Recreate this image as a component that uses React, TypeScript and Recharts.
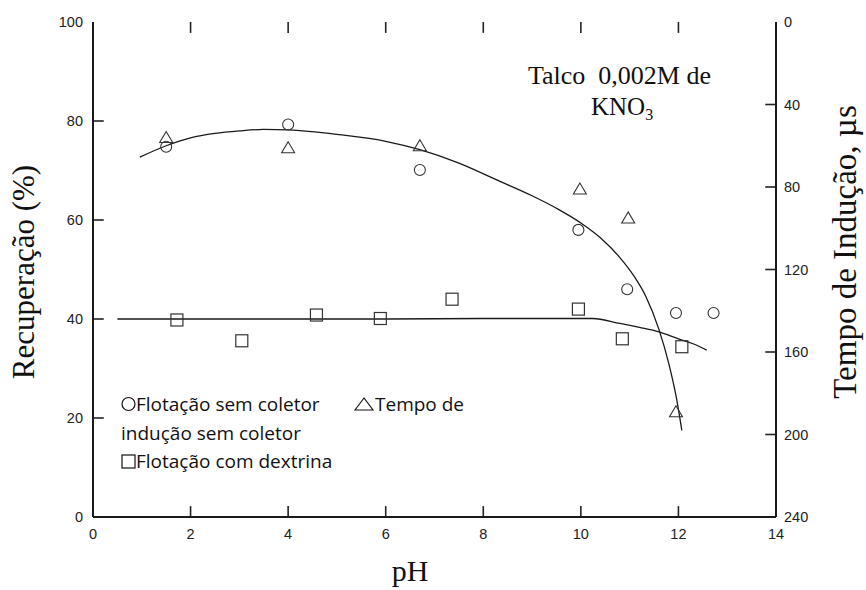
import React from 'react';
import { ComposedChart, XAxis, YAxis, Scatter, Line, Customized } from 'recharts';

// pH ticks
const xTicks = [0, 2, 4, 6, 8, 10, 12, 14];
const xInnerTicks = [2, 4, 6, 8, 10, 12];
const leftTicks = [0, 20, 40, 60, 80, 100];
const leftInnerTicks = [20, 40, 60, 80];
const rightTicks = [0, 40, 80, 120, 160, 200, 240];
const rightInnerTicks = [40, 80, 120, 160, 200];

// Flotação sem coletor (Recuperação %)
const flotSemColetor = [
  { x: 1.5, y: 74.8 },
  { x: 4.0, y: 79.3 },
  { x: 6.7, y: 70.1 },
  { x: 9.95, y: 58.0 },
  { x: 10.95, y: 46.0 },
  { x: 11.95, y: 41.2 },
  { x: 12.72, y: 41.2 },
];

// Tempo de indução sem coletor (µs, right axis)
const tempoInducao = [
  { x: 1.5, y: 56 },
  { x: 4.0, y: 61 },
  { x: 6.7, y: 60 },
  { x: 9.98, y: 81 },
  { x: 10.97, y: 95 },
  { x: 11.95, y: 189 },
];

// Flotação com dextrina (Recuperação %)
const flotDextrina = [
  { x: 1.72, y: 39.8 },
  { x: 3.05, y: 35.6 },
  { x: 4.58, y: 40.8 },
  { x: 5.89, y: 40.1 },
  { x: 7.36, y: 44.0 },
  { x: 9.95, y: 42.0 },
  { x: 10.85, y: 36.0 },
  { x: 12.07, y: 34.4 },
];

// hand-drawn fitted curves
const curveSemColetor = [
  { x: 0.96, y: 72.7 },
  { x: 1.5, y: 75.0 },
  { x: 2.0, y: 76.6 },
  { x: 2.5, y: 77.5 },
  { x: 3.0, y: 78.0 },
  { x: 3.5, y: 78.3 },
  { x: 4.0, y: 78.2 },
  { x: 5.0, y: 77.3 },
  { x: 6.0, y: 75.9 },
  { x: 6.7, y: 74.2 },
  { x: 7.5, y: 71.5 },
  { x: 8.3, y: 68.0 },
  { x: 9.0, y: 64.9 },
  { x: 9.55, y: 62.1 },
  { x: 10.0, y: 59.4 },
  { x: 10.4, y: 56.4 },
  { x: 10.8, y: 52.4 },
  { x: 11.1, y: 48.5 },
  { x: 11.33, y: 44.6 },
  { x: 11.6, y: 37.9 },
  { x: 11.8, y: 31.1 },
  { x: 11.95, y: 24.5 },
  { x: 12.07, y: 17.5 },
];

const curveDextrina = [
  { x: 0.5, y: 40.0 },
  { x: 2.0, y: 40.0 },
  { x: 4.0, y: 40.0 },
  { x: 6.0, y: 40.0 },
  { x: 8.0, y: 40.1 },
  { x: 10.24, y: 40.1 },
  { x: 10.8, y: 39.1 },
  { x: 11.2, y: 38.3 },
  { x: 11.6, y: 37.4 },
  { x: 12.0, y: 36.0 },
  { x: 12.3, y: 35.0 },
  { x: 12.58, y: 33.7 },
];

const INK = '#1a1a1a';
const MARK = '#333';
const TICK = '#222';
const TICK_W = 1.6;
const tickFontFamily = 'Liberation Sans, Arial, sans-serif';
const tickFontSize = 14.5;
const serif = 'Liberation Serif, Times New Roman, serif';
const sans = 'Open Sans, sans-serif';

// inward tick-mark lengths expressed in axis units (≈11px)
const TICK_PH = 0.22;
const TICK_PCT = 2.2;
const TICK_US = 5.3;
const X_MAX = 14;
const PCT_MAX = 100;
const US_MAX = 240;

// each tick mark is a tiny two-point segment placed through the chart's own scales
const bottomMarks = xInnerTicks.map((t) => [{ x: t, y: 0 }, { x: t, y: TICK_PCT }]);
const topMarks = xInnerTicks.map((t) => [{ x: t, y: PCT_MAX }, { x: t, y: PCT_MAX - TICK_PCT }]);
const leftMarks = leftInnerTicks.map((t) => [{ x: 0, y: t }, { x: TICK_PH, y: t }]);
const rightMarks = rightInnerTicks.map((t) => [{ x: X_MAX - TICK_PH, y: t }, { x: X_MAX, y: t }]);

const makeTick = (anchor: 'start' | 'middle' | 'end') => (p: any) => (
  <text x={p.x} y={p.y} dy="0.35em" textAnchor={anchor} fontFamily={tickFontFamily} fontSize={tickFontSize} fill="#222">
    {p.payload.value}
  </text>
);
const LeftTick = makeTick('end');
const RightTick = makeTick('start');
const BottomTick = makeTick('middle');

const CircleShape = (p: any) => (
  <circle cx={p.cx} cy={p.cy} r={5.5} fill="none" stroke={MARK} strokeWidth={1.1} />
);
const TriangleShape = (p: any) => (
  <polygon
    points={`${p.cx},${p.cy - 6} ${p.cx - 6.5},${p.cy + 5} ${p.cx + 6.5},${p.cy + 5}`}
    fill="none"
    stroke={MARK}
    strokeWidth={1.1}
  />
);
const SquareShape = (p: any) => (
  <rect x={p.cx - 6} y={p.cy - 6} width={12} height={12} fill="none" stroke={MARK} strokeWidth={1.2} />
);

const Annotations = () => (
  <g>
    <text transform="translate(33.5, 272) rotate(-90)" textAnchor="middle" fontFamily={serif} fontSize={31} fill="#111">
      Recuperação (%)
    </text>
    <text transform="translate(856, 252) rotate(-90)" textAnchor="middle" fontFamily={serif} fontSize={33} fill="#111">
      Tempo de Indução, µs
    </text>
    <text x={410} y={581} textAnchor="middle" fontFamily={serif} fontSize={30} fill="#111">
      pH
    </text>
    <text x={528} y={84} fontFamily={serif} fontSize={26} fill="#111" style={{ whiteSpace: 'pre' }}>
      {'Talco  0,002M de'}
    </text>
    <text x={591} y={115} fontFamily={serif} fontSize={25} fill="#111">
      KNO<tspan fontSize={16} dy={5}>3</tspan>
    </text>
    <circle cx={128.5} cy={404} r={6.5} fill="none" stroke="#111" strokeWidth={1.2} />
    <text x={136} y={411} fontFamily={sans} fontSize={19} fill="#111">
      Flotação sem coletor
    </text>
    <polygon points="364,398 355,410 373,410" fill="none" stroke="#111" strokeWidth={1.1} />
    <text x={375} y={411} fontFamily={sans} fontSize={19} fill="#111">
      Tempo de
    </text>
    <text x={121} y={440} fontFamily={sans} fontSize={19} fill="#111">
      indução sem coletor
    </text>
    <rect x={122} y={455} width={13} height={13} fill="none" stroke="#111" strokeWidth={1.2} />
    <text x={136} y={468} fontFamily={sans} fontSize={19} fill="#111">
      Flotação com dextrina
    </text>
  </g>
);

const tickLine = (key: string, data: any[], yAxisId: string) => (
  <Line
    key={key}
    xAxisId="b"
    yAxisId={yAxisId}
    data={data}
    dataKey="y"
    type="linear"
    stroke={TICK}
    strokeWidth={TICK_W}
    dot={false}
    activeDot={false}
    legendType="none"
    isAnimationActive={false}
  />
);

export default function App() {
  return (
    <div style={{ position: 'absolute', left: 0, top: 0, background: '#fff' }}>
      <ComposedChart width={866} height={590} margin={{ top: 22, right: 0, bottom: 0, left: 0 }}>
        <XAxis
          xAxisId="b"
          dataKey="x"
          type="number"
          domain={[0, X_MAX]}
          ticks={xTicks}
          orientation="bottom"
          height={73}
          axisLine={{ stroke: INK, strokeWidth: 2 }}
          tickLine={false}
          tickSize={0}
          tickMargin={17}
          tick={BottomTick}
          allowDataOverflow
        />
        <XAxis
          xAxisId="t"
          dataKey="x"
          type="number"
          domain={[0, X_MAX]}
          orientation="top"
          height={0}
          axisLine={{ stroke: INK, strokeWidth: 2 }}
          tickLine={false}
          tick={false}
          allowDataOverflow
        />
        <YAxis
          yAxisId="l"
          type="number"
          domain={[0, PCT_MAX]}
          ticks={leftTicks}
          orientation="left"
          width={93}
          axisLine={{ stroke: INK, strokeWidth: 2 }}
          tickLine={false}
          tickSize={0}
          tickMargin={10}
          tick={LeftTick}
          allowDataOverflow
        />
        <YAxis
          yAxisId="r"
          type="number"
          domain={[0, US_MAX]}
          reversed
          ticks={rightTicks}
          orientation="right"
          width={90}
          axisLine={{ stroke: INK, strokeWidth: 2 }}
          tickLine={false}
          tickSize={0}
          tickMargin={8}
          tick={RightTick}
          allowDataOverflow
        />
        {bottomMarks.map((d, i) => tickLine(`bm${i}`, d, 'l'))}
        {topMarks.map((d, i) => tickLine(`tm${i}`, d, 'l'))}
        {leftMarks.map((d, i) => tickLine(`lm${i}`, d, 'l'))}
        {rightMarks.map((d, i) => tickLine(`rm${i}`, d, 'r'))}
        <Line
          xAxisId="b"
          yAxisId="l"
          data={curveSemColetor}
          dataKey="y"
          type="monotone"
          stroke={INK}
          strokeWidth={1.3}
          dot={false}
          activeDot={false}
          isAnimationActive={false}
        />
        <Line
          xAxisId="b"
          yAxisId="l"
          data={curveDextrina}
          dataKey="y"
          type="monotone"
          stroke={INK}
          strokeWidth={1.3}
          dot={false}
          activeDot={false}
          isAnimationActive={false}
        />
        <Scatter xAxisId="b" yAxisId="l" data={flotSemColetor} dataKey="y" shape={CircleShape} isAnimationActive={false} />
        <Scatter xAxisId="b" yAxisId="r" data={tempoInducao} dataKey="y" shape={TriangleShape} isAnimationActive={false} />
        <Scatter xAxisId="b" yAxisId="l" data={flotDextrina} dataKey="y" shape={SquareShape} isAnimationActive={false} />
        <Customized component={Annotations} />
      </ComposedChart>
    </div>
  );
}
